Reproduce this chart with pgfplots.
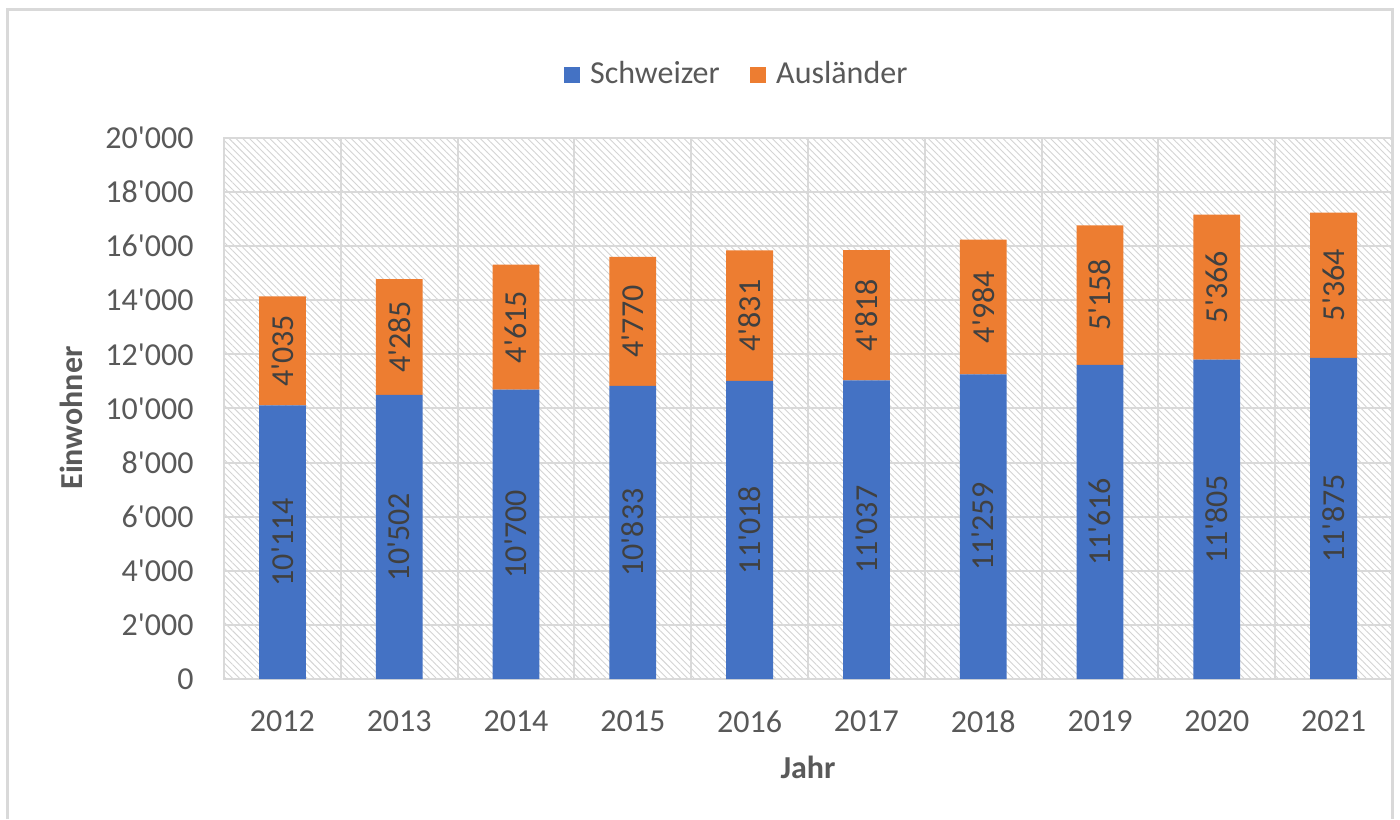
\documentclass[border=0pt]{standalone}
\usepackage{pgfplots}
\pgfplotsset{compat=1.18}
\usepackage{pgfplotstable}
\usetikzlibrary{patterns,patterns.meta}
\usepackage{fontspec}
\setmainfont{Carlito}
\definecolor{cblue}{HTML}{4472C4}
\definecolor{corange}{HTML}{ED7D31}
\definecolor{ctext}{HTML}{595959}
\definecolor{clabel}{HTML}{404040}
\definecolor{cgrid}{HTML}{D9D9D9}
\definecolor{chatch}{HTML}{D4D4D4}

\pgfplotstableread{
x year S A
0 2012 10114 4035
1 2013 10502 4285
2 2014 10700 4615
3 2015 10833 4770
4 2016 11018 4831
5 2017 11037 4818
6 2018 11259 4984
7 2019 11616 5158
8 2020 11805 5366
9 2021 11875 5364
}\data

\pgfplotsset{
  common/.style={
    at={(112pt,70pt)}, anchor=south west,
    width=584pt, height=270.5pt, scale only axis,
    xmin=-0.5, xmax=9.5, ymin=0, ymax=20000,
    scaled y ticks=false,
    /pgf/number format/1000 sep={\textquotesingle},
    /pgf/number format/assume math mode=true,
  }
}

\begin{document}
\fontsize{16}{19}\selectfont
\begin{tikzpicture}
\useasboundingbox (0,0) rectangle (700pt,409.5pt);
\fill[white] (0,0) rectangle (700pt,409.5pt);
\draw[cgrid,line width=1.5pt] (3.5pt,0) -- (3.5pt,404.5pt) -- (696pt,404.5pt) -- (696pt,0);
\begin{axis}[
  common,
  ybar stacked, bar width=23.4pt,
  xtick={0,...,9},
  xticklabels={2012,2013,2014,2015,2016,2017,2018,2019,2020,2021},
  minor xtick={-0.5,0.5,...,9.5},
  ytick={0,2000,...,20000},
  major tick length=0pt, minor tick length=0pt,
  ymajorgrids, xminorgrids, xmajorgrids=false,
  grid style={cgrid, line width=1pt},
  minor grid style={cgrid, line width=1pt},
  axis line style={cgrid, line width=1pt},
  axis background/.style={pattern={Lines[angle=-45,distance=2.4pt,line width=0.45pt]}, pattern color=chatch},
  tick label style={ctext, font=\fontsize{16}{19}\selectfont, inner sep=0pt},
  yticklabel style={anchor=east, xshift=-15pt},
  xticklabel style={anchor=north, yshift=-15.5pt},
  legend columns=2,
  legend style={at={(0.438,1.1165)}, anchor=center, draw=none, fill=none,
    font=\fontsize{16}{19}\selectfont, column sep=5pt,
    /tikz/every even column/.append style={column sep=15pt},
    nodes={inner sep=0pt}},
  legend image code/.code={\fill[#1] (0pt,-4.2pt) rectangle (8.2pt,4.2pt);},
]
\addplot[fill=cblue, draw=none] table[x=x,y=S]{\data};
\addlegendentry{\textcolor{ctext}{Schweizer}}
\addplot[fill=corange, draw=none] table[x=x,y=A]{\data};
\addlegendentry{\textcolor{ctext}{Ausländer}}
\end{axis}
\begin{axis}[
  common, hide axis,
  nodes near coords style={rotate=90, anchor=center, inner sep=0pt, text=clabel,
    font=\fontsize{16}{19}\selectfont},
]
\addplot[draw=none, mark=none, nodes near coords, point meta=\thisrow{S}]
  table[x=x, y expr=\thisrow{S}/2]{\data};
\addplot[draw=none, mark=none, nodes near coords, point meta=\thisrow{A}]
  table[x=x, y expr=\thisrow{S}+\thisrow{A}/2]{\data};
\end{axis}
\node[rotate=90, text=ctext, font=\bfseries\fontsize{16}{19}\selectfont] at (35.5pt,200.5pt) {Einwohner};
\node[anchor=base, text=ctext, font=\bfseries\fontsize{16}{19}\selectfont] at (404pt,20.5pt) {Jahr};
\end{tikzpicture}
\end{document}
